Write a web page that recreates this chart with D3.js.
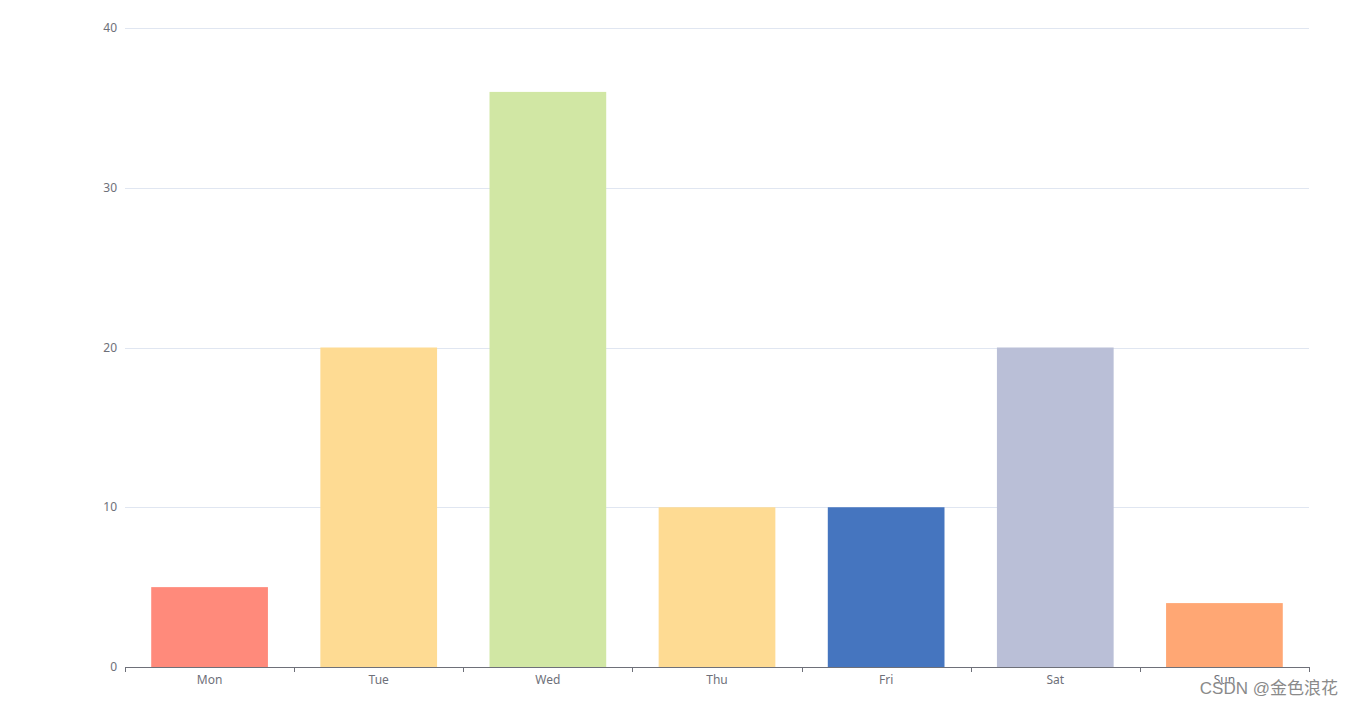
<!DOCTYPE html>
<html><head><meta charset="utf-8">
<script src="https://cdn.jsdelivr.net/npm/d3@7"></script>
<style>body{margin:0;background:#fff;}svg{display:block;}</style>
</head><body>
<svg id="chart" width="1353" height="705"></svg>
<script>
const categories = ["Mon","Tue","Wed","Thu","Fri","Sat","Sun"];
const values = [5, 20, 36, 10, 10, 20, 4];
const barColors = ["#ff8a7b","#fedb93","#d1e7a4","#fedb93","#4575bf","#babfd7","#ffa774"];
const yTicks = [0, 10, 20, 30, 40];

(function () {
const svg = d3.select("#chart");
const mLeft = 125, mRight = 1309, mTop = 28, mBottom = 667;
const x = d3.scaleBand().domain(categories).range([mLeft, mRight]).padding(0);
const y = d3.scaleLinear().domain([0, 40]).range([mBottom, mTop]);
const font = "'Microsoft YaHei', 'Noto Sans', sans-serif";

// grid
svg.append("g").selectAll("line").data(yTicks.filter(d => d > 0)).join("line")
  .attr("x1", mLeft).attr("x2", mRight)
  .attr("y1", d => Math.round(y(d)) + 0.5).attr("y2", d => Math.round(y(d)) + 0.5)
  .attr("stroke", "#e0e6f1").attr("stroke-width", 1);

// y labels
svg.append("g").selectAll("text").data(yTicks).join("text")
  .attr("x", mLeft - 8).attr("y", d => y(d)).attr("dy", "0.35em")
  .attr("text-anchor", "end").attr("fill", "#6e7079")
  .style("font-family", font).style("font-size", "12px").text(d => d);

// bars
const bw = x.bandwidth() * 0.69;
svg.append("g").selectAll("rect").data(categories).join("rect")
  .attr("x", (d) => x(d) + (x.bandwidth() - bw) / 2)
  .attr("width", bw)
  .attr("y", (d, i) => y(values[i]))
  .attr("height", (d, i) => y(0) - y(values[i]))
  .attr("fill", (d, i) => barColors[i]);

// x axis
const xAxis = svg.append("g");
xAxis.append("line").attr("x1", mLeft).attr("x2", mRight)
  .attr("y1", Math.round(y(0)) + 0.5).attr("y2", Math.round(y(0)) + 0.5)
  .attr("stroke", "#6e7079");
const bounds = categories.map(c => x(c)).concat([mRight]);
xAxis.selectAll("line.tick").data(bounds).join("line").attr("class", "tick")
  .attr("x1", d => Math.round(d) + 0.5).attr("x2", d => Math.round(d) + 0.5)
  .attr("y1", Math.round(y(0))).attr("y2", Math.round(y(0)) + 5)
  .attr("stroke", "#6e7079");
xAxis.selectAll("text").data(categories).join("text")
  .attr("x", d => x(d) + x.bandwidth() / 2).attr("y", y(0) + 17)
  .attr("text-anchor", "middle").attr("fill", "#6e7079")
  .style("font-family", font).style("font-size", "12px").text(d => d);

// watermark
svg.append("text").attr("x", 1338).attr("y", 694).attr("text-anchor", "end")
  .attr("fill", "#8a8a8a").attr("stroke", "#ffffff").attr("stroke-width", 0.6)
  .attr("paint-order", "stroke")
  .style("font-family", "'Liberation Sans', 'Noto Sans CJK SC', sans-serif").style("font-size", "17px")
  .text("CSDN @金色浪花");
})();
</script>
</body></html>
